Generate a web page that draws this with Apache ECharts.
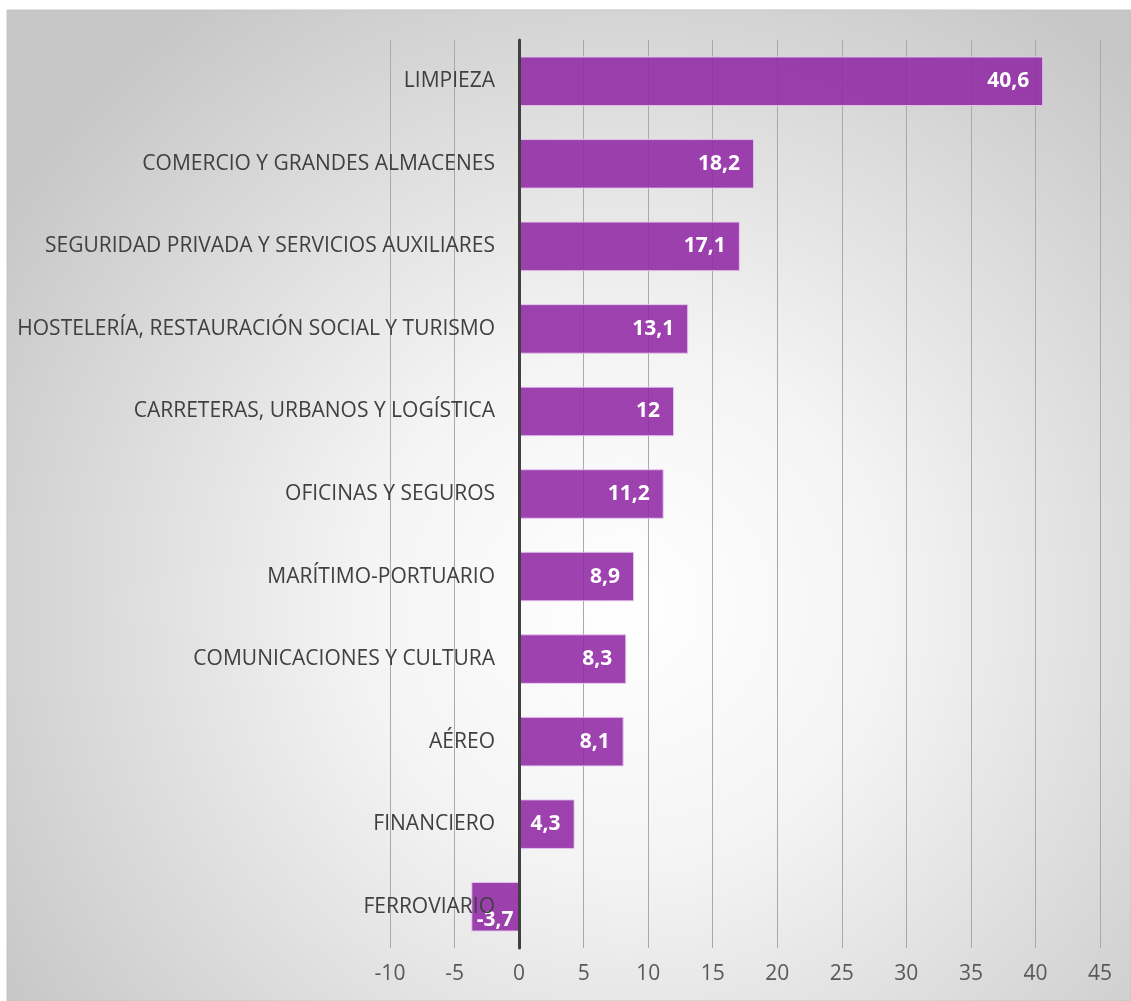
<!DOCTYPE html>
<html>
<head>
<meta charset="utf-8">
<script src="https://cdn.jsdelivr.net/npm/echarts@6/dist/echarts.min.js"></script>
<style>
  html, body { margin: 0; padding: 0; background: #ffffff; }
  #chart { width: 1131px; height: 1001px; }
</style>
</head>
<body>
<div id="chart"></div>
<script>
// Sectors (top to bottom) and their values
const sectors = [
  'LIMPIEZA',
  'COMERCIO Y GRANDES ALMACENES',
  'SEGURIDAD PRIVADA Y SERVICIOS AUXILIARES',
  'HOSTELERÍA, RESTAURACIÓN SOCIAL Y TURISMO',
  'CARRETERAS, URBANOS Y LOGÍSTICA',
  'OFICINAS Y SEGUROS',
  'MARÍTIMO-PORTUARIO',
  'COMUNICACIONES Y CULTURA',
  'AÉREO',
  'FINANCIERO',
  'FERROVIARIO'
];
const values = [40.6, 18.2, 17.1, 13.1, 12, 11.2, 8.9, 8.3, 8.1, 4.3, -3.7];

// Value axis range
const axisMin = -10;
const axisMax = 45;
const axisStep = 5;

const fmt = v => String(v).replace('.', ',');

const chart = echarts.init(document.getElementById('chart'));

chart.setOption({
  animation: false,
  graphic: [{
    type: 'rect',
    z: -10,
    silent: true,
    shape: { x: 7, y: 10, width: 1124, height: 991 },
    style: {
      fill: {
        type: 'radial', x: 0.55, y: 0.6, r: 0.75,
        colorStops: [
          { offset: 0, color: '#ffffff' },
          { offset: 0.35, color: '#f4f4f4' },
          { offset: 1, color: '#c6c6c6' }
        ]
      },
      stroke: '#c4c4c4',
      lineWidth: 1
    }
  }],
  grid: {
    left: 390, right: 31, top: 40, bottom: 53,
    containLabel: false,
    outerBoundsMode: 'none'
  },
  xAxis: {
    type: 'value',
    min: axisMin,
    max: axisMax,
    interval: axisStep,
    z: 0,
    axisLine: { show: false },
    axisTick: { show: false },
    axisLabel: {
      color: '#595959',
      fontSize: 21,
      fontFamily: 'Open Sans',
      margin: 16
    },
    splitLine: { show: true, lineStyle: { color: '#a9a9a9', width: 1 } }
  },
  yAxis: {
    type: 'category',
    data: sectors,
    inverse: true,
    // drawn above the bars so names and the zero line stay visible
    z: 5,
    axisLine: { show: true, onZero: true, lineStyle: { color: '#404040', width: 3 } },
    axisTick: { show: false },
    axisLabel: {
      color: '#404040',
      fontSize: 21,
      fontFamily: 'Open Sans',
      // category names end just left of the zero line
      margin: -105
    },
    splitLine: { show: false }
  },
  series: [{
    type: 'bar',
    data: values.map(v => {
      const item = { value: v };
      if (v < 0) {
        item.label = { position: 'insideBottom', distance: 1 };
      }
      return item;
    }),
    barWidth: '60%',
    z: 2,
    itemStyle: {
      color: 'rgba(145,40,165,0.88)',
      borderColor: 'rgba(230,200,240,0.9)',
      borderWidth: 1
    },
    label: {
      show: true,
      position: 'insideRight',
      distance: 14,
      color: '#ffffff',
      fontWeight: 'bold',
      fontSize: 21,
      fontFamily: 'Open Sans',
      formatter: p => fmt(p.value)
    }
  }]
});
</script>
</body>
</html>
